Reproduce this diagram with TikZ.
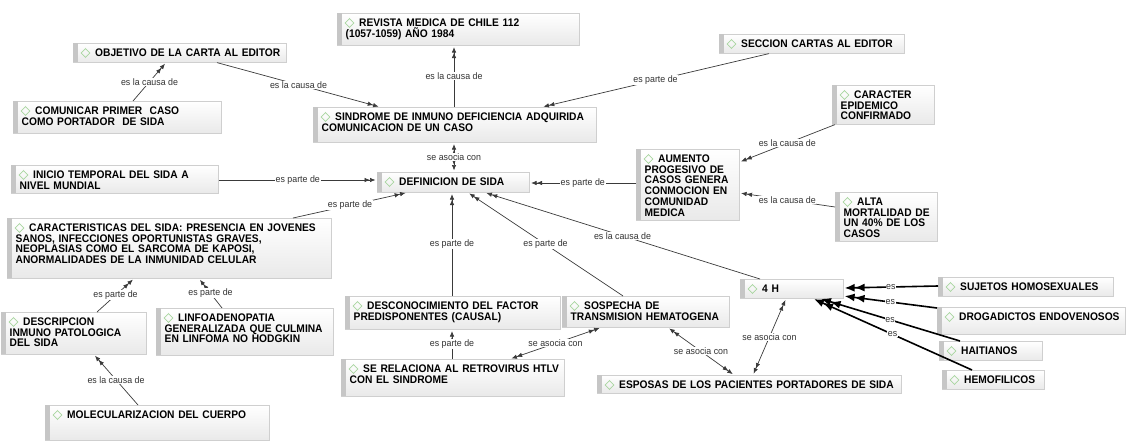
\documentclass[tikz,border=0pt]{standalone}
\usepackage{fontspec}
\setmainfont{Liberation Sans}
\newfontfamily\conceptfont{Liberation Sans}[FakeStretch=0.93]
\newfontfamily\linkfont{Liberation Sans}[FakeStretch=0.94]
\usetikzlibrary{arrows.meta,shadings}

\definecolor{boxline}{HTML}{CFCFCF}
\definecolor{boxbar}{HTML}{C6C6C6}
\definecolor{boxlow}{HTML}{E9E9E9}
\definecolor{icongreen}{HTML}{A9D6A0}
\definecolor{relline}{HTML}{3A3A3A}

\tikzset{
  cbox/.style={draw=boxline, line width=0.6pt, top color=white, bottom color=boxlow,
    inner sep=0pt, anchor=north west},
  ctext/.style={anchor=base west, inner sep=0pt, text width=400pt, align=left,
    font=\conceptfont\fontsize{11}{10.8}\selectfont\bfseries},
  cicon/.style={draw=icongreen, line width=0.7pt},
  tip/.style={},
  rel/.style={draw=relline, line width=0.7pt, shorten >=1.5pt,
    -{Latex[length=5.5pt,width=4.5pt] Latex[length=5.5pt,width=4.5pt]}},
  relboth/.style={draw=relline, line width=0.7pt, shorten >=1.5pt, shorten <=1.5pt,
    {Latex[length=5.5pt,width=4.5pt] Latex[length=5.5pt,width=4.5pt]}-{Latex[length=5.5pt,width=4.5pt] Latex[length=5.5pt,width=4.5pt]}},
  relthick/.style={draw=black, line width=1.6pt, shorten >=1pt,
    -{Latex[length=10pt,width=8pt] Latex[length=10pt,width=8pt]}},
  lab/.style={font=\linkfont\fontsize{9.4}{10}\selectfont, text=black!80, fill=white, inner sep=0.6pt},
}

% concept box: name, left, top, width, height, text
\newcommand\cmapbox[6]{%
  \node[cbox, minimum width=#4pt, minimum height=#5pt] (#1) at (#2,#3) {};
  \fill[boxbar] ([xshift=0.3pt,yshift=-0.3pt]#1.north west) rectangle ([xshift=5pt,yshift=0.3pt]#1.south west);
  \draw[cicon] ([xshift=12.5pt,yshift=-10pt]#1.north west) +(0,4.5) -- +(4.3,0) -- +(0,-4.5) -- +(-4.3,0) -- cycle;
  \node[ctext] (#1-t) at ([xshift=8.5pt,yshift=-13.3pt]#1.north west) {\hspace*{13.5pt}#6};
}

\begin{document}
\begin{tikzpicture}[x=1pt,y=-1pt]
\useasboundingbox (0,0) rectangle (1126,441);

% concepts
\cmapbox{objetivo}{73}{43}{213}{19}{OBJETIVO DE LA CARTA AL EDITOR}
\cmapbox{comunicar}{13}{101}{208}{32}{COMUNICAR PRIMER \ CASO\\COMO PORTADOR \ DE SIDA}
\cmapbox{revista}{337}{13}{242}{32}{REVISTA MEDICA DE CHILE 112\\(1057-1059) AÑO 1984}
\cmapbox{sindrome}{313}{107}{283}{35}{SINDROME DE INMUNO DEFICIENCIA ADQUIRIDA\\COMUNICACION DE UN CASO}
\cmapbox{seccion}{719}{34}{185}{19}{SECCION CARTAS AL EDITOR}
\cmapbox{caracter}{832}{85}{102}{39}{CARACTER\\EPIDEMICO\\CONFIRMADO}
\cmapbox{aumento}{636}{149}{103}{71}{AUMENTO\\PROGESIVO DE\\CASOS GENERA\\CONMOCION EN\\COMUNIDAD\\MEDICA}
\cmapbox{alta}{835}{192}{102}{49}{ALTA\\MORTALIDAD DE\\UN 40\% DE LOS\\CASOS}
\cmapbox{inicio}{11}{165}{207}{28}{INICIO TEMPORAL DEL SIDA A\\NIVEL MUNDIAL}
\cmapbox{definicion}{377}{172}{152}{20}{DEFINICION DE SIDA}
\cmapbox{caracteristicas}{7}{218}{324}{60}{CARACTERISTICAS DEL SIDA: PRESENCIA EN JOVENES\\SANOS, INFECCIONES OPORTUNISTAS GRAVES,\\NEOPLASIAS COMO EL SARCOMA DE KAPOSI,\\ANORMALIDADES DE LA INMUNIDAD CELULAR}
\cmapbox{descripcion}{1}{312}{145}{42}{DESCRIPCION\\INMUNO PATOLOGICA\\DEL SIDA}
\cmapbox{linfo}{156}{308}{177}{47}{LINFOADENOPATIA\\GENERALIZADA QUE CULMINA\\EN LINFOMA NO HODGKIN}
\cmapbox{molecular}{45}{405}{224}{35}{MOLECULARIZACION DEL CUERPO}
\cmapbox{desconocimiento}{345}{296}{215}{33}{DESCONOCIMIENTO DEL FACTOR\\PREDISPONENTES (CAUSAL)}
\cmapbox{sospecha}{562}{296}{167}{31}{SOSPECHA DE\\TRANSMISION HEMATOGENA}
\cmapbox{serelaciona}{341}{359}{223}{37}{SE RELACIONA AL RETROVIRUS HTLV\\CON EL SINDROME}
\cmapbox{esposas}{597}{375}{304}{18}{ESPOSAS DE LOS PACIENTES PORTADORES DE SIDA}
\cmapbox{cuatroh}{740}{279}{103}{19}{4 H}
\cmapbox{sujetos}{938}{277}{175}{19}{SUJETOS HOMOSEXUALES}
\cmapbox{drogadictos}{937}{307}{188}{27}{DROGADICTOS ENDOVENOSOS}
\cmapbox{haitianos}{939}{341}{103}{19}{HAITIANOS}
\cmapbox{hemofilicos}{942}{370}{102}{19}{HEMOFILICOS}

% relations
\draw[rel] ([xshift=120pt]comunicar.north west) -- node[lab]{es la causa de} ([xshift=93pt]objetivo.south west);
\draw[rel] ([xshift=144pt]objetivo.south west) -- node[lab]{es la causa de} ([xshift=67pt]sindrome.north west);
\draw[rel] ([xshift=141pt]sindrome.north west) -- node[lab]{es la causa de} ([xshift=117pt]revista.south west);
\draw[rel] ([xshift=50pt]seccion.south west) -- node[lab]{es parte de} ([xshift=229pt]sindrome.north west);
\draw[relboth] ([xshift=141pt]sindrome.south west) -- node[lab]{se asocia con} ([xshift=77pt]definicion.north west);
\draw[rel] ([yshift=-15pt]inicio.north east) -- node[lab]{es parte de} ([yshift=-8pt]definicion.north west);
\draw[rel] ([xshift=286pt]caracteristicas.north west) -- node[lab]{es parte de} ([xshift=30pt]definicion.south west);
\draw[rel] ([yshift=-34pt]aumento.north west) -- node[lab]{es parte de} ([yshift=-11pt]definicion.north east);
\draw[rel] ([xshift=3pt]caracter.south west) -- node[lab]{es la causa de} ([yshift=-13pt]aumento.north east);
\draw[rel] ([yshift=-15pt]alta.north west) -- node[lab]{es la causa de} ([yshift=-44pt]aumento.north east);
\draw[rel] ([xshift=20pt]cuatroh.north west) -- node[lab]{es la causa de} ([xshift=108pt]definicion.south west);
\draw[rel] ([xshift=107pt]desconocimiento.north west) -- node[lab]{es parte de} ([xshift=75pt]definicion.south west);
\draw[rel] ([xshift=61pt]sospecha.north west) -- node[lab]{es parte de} ([xshift=91pt]definicion.south west);
\draw[rel] ([xshift=96pt]descripcion.north west) -- node[lab]{es parte de} ([xshift=127pt]caracteristicas.south west);
\draw[rel] ([xshift=66pt]linfo.north west) -- node[lab]{es parte de} ([xshift=192pt]caracteristicas.south west);
\draw[rel] ([xshift=93pt]molecular.north west) -- node[lab]{es la causa de} ([xshift=93pt]descripcion.south west);
\draw[rel] ([xshift=111pt]serelaciona.north west) -- node[lab]{es parte de} ([xshift=107pt]desconocimiento.south west);
\draw[relboth] ([xshift=169pt]serelaciona.north west) -- node[lab]{se asocia con} ([xshift=39pt]sospecha.south west);
\draw[relboth] ([xshift=106pt]sospecha.south west) -- node[lab]{se asocia con} ([xshift=137pt]esposas.north west);
\draw[relboth] ([xshift=156pt]esposas.north west) -- node[lab]{se asocia con} ([xshift=46pt]cuatroh.south west);

% the four groups of the 4 H
\draw[relthick] ([yshift=-9pt]sujetos.north west) -- node[lab]{es} ([yshift=-9pt]cuatroh.north east);
\draw[relthick] ([yshift=-1pt]drogadictos.north west) -- node[lab]{es} ([yshift=-17pt]cuatroh.north east);
\draw[relthick] ([xshift=21pt]haitianos.north west) -- node[lab]{es} ([xshift=80pt]cuatroh.south west);
\draw[relthick] ([xshift=30pt]hemofilicos.north west) -- node[lab]{es} ([xshift=73pt]cuatroh.south west);
\end{tikzpicture}
\end{document}
